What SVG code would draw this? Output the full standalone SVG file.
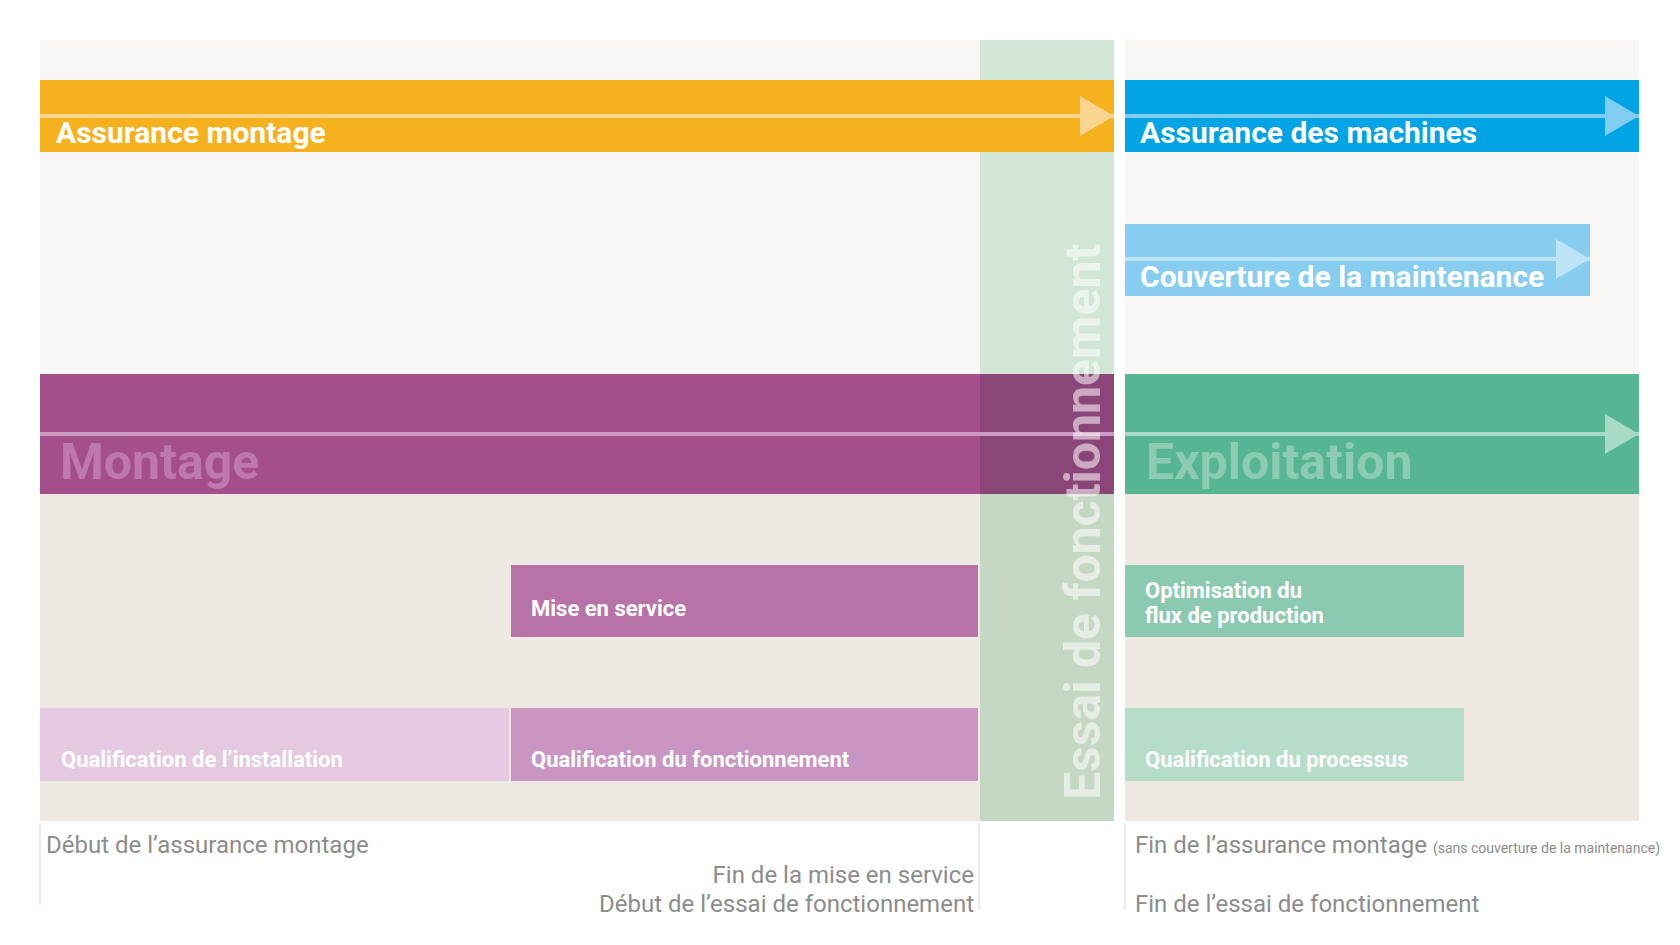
<svg xmlns="http://www.w3.org/2000/svg" width="1680" height="945" viewBox="0 0 1680 945">
<defs>
<style>
.lbl{font-family:Roboto,"Liberation Sans",sans-serif;font-weight:700;fill:#ffffff}
.bar{font-size:30px}
.phase{font-size:50px}
.box{font-size:22px}
.foot{font-family:Roboto,"Liberation Sans",sans-serif;font-weight:400;font-size:24px;fill:#8c8c8c}
.tick{stroke:#eee9e3;stroke-width:2}
.ln{stroke-width:4;fill:none}
</style>
<marker id="ah-orange" markerUnits="userSpaceOnUse" markerWidth="34" markerHeight="40" refX="34" refY="20" orient="auto" viewBox="0 0 34 40"><path d="M0,0 L34,20 L0,40 Z" fill="#fad58f"/></marker>
<marker id="ah-blue" markerUnits="userSpaceOnUse" markerWidth="34" markerHeight="40" refX="34" refY="20" orient="auto" viewBox="0 0 34 40"><path d="M0,0 L34,20 L0,40 Z" fill="#80cdf1"/></marker>
<marker id="ah-lblue" markerUnits="userSpaceOnUse" markerWidth="34" markerHeight="40" refX="34" refY="20" orient="auto" viewBox="0 0 34 40"><path d="M0,0 L34,20 L0,40 Z" fill="#bee4f7"/></marker>
<marker id="ah-green" markerUnits="userSpaceOnUse" markerWidth="34" markerHeight="40" refX="34" refY="20" orient="auto" viewBox="0 0 34 40"><path d="M0,0 L34,20 L0,40 Z" fill="#a8dac7"/></marker>
</defs>
<rect width="1680" height="945" fill="#ffffff"/>
<g id="background">
<rect x="40" y="40" width="1074" height="334" fill="#f8f7f5"/>
<rect x="1125" y="40" width="514" height="334" fill="#f8f7f5"/>
<rect x="40" y="494" width="1074" height="327" fill="#eee9e3"/>
<rect x="1125" y="494" width="514" height="327" fill="#eee9e3"/>
</g>
<g id="essai-band">
<rect x="980" y="40" width="134" height="334" fill="#d1e6d7"/>
<rect x="980" y="494" width="134" height="327" fill="#c5d8c4"/>
</g>
<g id="assurance-montage">
<rect x="40" y="80" width="1074" height="72" fill="#f6b11f"/>
</g>
<g id="assurance-machines">
<rect x="1125" y="80" width="514" height="72" fill="#00a3e3"/>
</g>
<g id="couverture-maintenance">
<rect x="1125" y="224" width="465" height="72" fill="#86cdf0"/>
</g>
<g id="montage">
<rect x="40" y="374" width="1074" height="120" fill="#a54e8c"/>
<rect x="980" y="374" width="134" height="120" fill="#8a4579"/>
</g>
<g id="exploitation">
<rect x="1125" y="374" width="514" height="120" fill="#55b595"/>
</g>
<g id="mise-en-service">
<rect x="511" y="565" width="467" height="72" fill="#b773a8"/>
<text class="lbl box" x="531" y="616">Mise en service</text>
</g>
<g id="qualification-installation">
<rect x="40" y="708" width="469" height="73" fill="#e4c9e0"/>
<text class="lbl box" x="61" y="767">Qualification de l’installation</text>
</g>
<g id="qualification-fonctionnement">
<rect x="511" y="708" width="467" height="73" fill="#c996c3"/>
<text class="lbl box" x="531" y="767">Qualification du fonctionnement</text>
</g>
<g id="optimisation-flux">
<rect x="1125" y="565" width="339" height="72" fill="#8bcab0"/>
<text class="lbl box" x="1145" y="598">Optimisation du</text>
<text class="lbl box" x="1145" y="623">flux de production</text>
</g>
<g id="qualification-processus">
<rect x="1125" y="708" width="339" height="73" fill="#b6ddca"/>
<text class="lbl box" x="1145" y="767">Qualification du processus</text>
</g>
<g id="connectors">
<line class="ln" x1="40" y1="116" x2="1114" y2="116" stroke="#fbd68f" marker-end="url(#ah-orange)"/>
<line class="ln" x1="1125" y1="116" x2="1639" y2="116" stroke="#7fcef0" marker-end="url(#ah-blue)"/>
<line class="ln" x1="1125" y1="259" x2="1590" y2="259" stroke="#bee4f7" marker-end="url(#ah-lblue)"/>
<line class="ln" x1="40" y1="434" x2="1114" y2="434" stroke="#cc9cc4"/>
<line class="ln" x1="1125" y1="434" x2="1639" y2="434" stroke="#a8dac7" marker-end="url(#ah-green)"/>
<line class="tick" x1="40" y1="823" x2="40" y2="905"/>
<line class="tick" x1="979" y1="823" x2="979" y2="911"/>
<line class="tick" x1="1125" y1="823" x2="1125" y2="911"/>
</g>
<g id="bar-labels">
<text class="lbl bar" x="56" y="143">Assurance montage</text>
<text class="lbl bar" x="1140" y="143">Assurance des machines</text>
<text class="lbl bar" x="1140" y="287">Couverture de la maintenance</text>
<text class="lbl phase" x="60" y="479" style="fill:#bd78ae">Montage</text>
<text class="lbl phase" x="1146" y="479" style="fill:#8dcbb3">Exploitation</text>
</g>
<g id="essai-label">
<text class="lbl phase" transform="translate(1100,800) rotate(-90)" style="fill:#ffffff;fill-opacity:0.55">Essai de fonctionnement</text>
</g>
<g id="milestones">
<text class="foot" x="46" y="853">Début de l’assurance montage</text>
<text class="foot" x="974" y="883" text-anchor="end">Fin de la mise en service</text>
<text class="foot" x="974" y="912" text-anchor="end">Début de l’essai de fonctionnement</text>
<text class="foot" x="1135" y="853">Fin de l’assurance montage <tspan style="font-size:14px">(sans couverture de la maintenance)</tspan></text>
<text class="foot" x="1135" y="912">Fin de l’essai de fonctionnement</text>
</g>
</svg>
